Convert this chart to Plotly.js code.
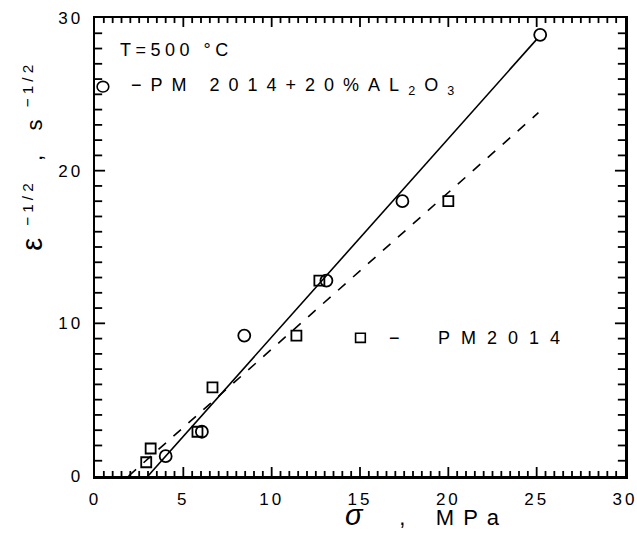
<!DOCTYPE html>
<html>
<head>
<meta charset="utf-8">
<script src="https://cdn.plot.ly/plotly-3.0.1.min.js"></script>
<style>
  html, body { margin: 0; padding: 0; background: #fff; }
  #chart { width: 637px; height: 533px; }
  .xtick text, .ytick text { letter-spacing: 3px; }
</style>
</head>
<body>
<div id="chart"></div>
<script>
// PM 2014 + 20% Al2O3 (circles)
const compSigma = [25.2, 17.4, 13.1, 8.45, 6.05, 4.0];
const compRate  = [28.9, 18.0, 12.8, 9.2, 2.9, 1.3];
// PM 2014 (squares)
const baseSigma = [20.0, 12.7, 11.4, 6.65, 5.8, 3.15, 2.9];
const baseRate  = [18.0, 12.8, 9.2, 5.8, 2.9, 1.8, 0.9];
// fitted lines (end points)
const compFitSigma = [3.0, 25.0];
const compFitRate  = [0.0, 28.6];
const baseFitSigma = [1.9, 25.1];
const baseFitRate  = [0.0, 23.8];
// axis ticks
const xRange = [0, 30], yRange = [0, 30];
const xTickStep = 5, xMinorStep = 0.5;
const yTickStep = 10, yMinorStep = 1;

const FONT = 'Liberation Sans, Arial, sans-serif';

// inward tick marks on all four sides, drawn as one line trace on the axes' scale
// tick lengths expressed as fractions of the opposite axis span
const tx = [], ty = [];
const xMajLen = 0.0196 * (yRange[1] - yRange[0]), xMinLen = 0.011 * (yRange[1] - yRange[0]);
const yMajLen = 0.019 * (xRange[1] - xRange[0]), yMinLen = 0.0135 * (xRange[1] - xRange[0]);
for (let i = 1; xMinorStep * i < xRange[1] - 1e-9; i++) {
  const v = xMinorStep * i;
  const len = Math.abs(v / xTickStep - Math.round(v / xTickStep)) < 1e-9 ? xMajLen : xMinLen;
  tx.push(v, v, null, v, v, null);
  ty.push(yRange[0], yRange[0] + len, null, yRange[1], yRange[1] - len, null);
}
for (let i = 1; yMinorStep * i < yRange[1] - 1e-9; i++) {
  const v = yMinorStep * i;
  const len = Math.abs(v / yTickStep - Math.round(v / yTickStep)) < 1e-9 ? yMajLen : yMinLen;
  tx.push(xRange[0], xRange[0] + len, null, xRange[1], xRange[1] - len, null);
  ty.push(v, v, null, v, v, null);
}

const traces = [
  { x: tx, y: ty, mode: 'lines', type: 'scatter', connectgaps: false, cliponaxis: false,
    line: { color: '#000', width: 1.8 }, hoverinfo: 'skip' },
  { x: compFitSigma, y: compFitRate, mode: 'lines', type: 'scatter',
    line: { color: '#000', width: 1.6 }, hoverinfo: 'skip' },
  { x: baseFitSigma, y: baseFitRate, mode: 'lines', type: 'scatter',
    line: { color: '#000', width: 1.6, dash: '10px,10px' }, hoverinfo: 'skip' },
  { x: compSigma, y: compRate, mode: 'markers', type: 'scatter',
    marker: { symbol: 'circle-open', size: 12, color: '#000', line: { width: 1.8, color: '#000' } } },
  { x: baseSigma, y: baseRate, mode: 'markers', type: 'scatter',
    marker: { symbol: 'square-open', size: 10, color: '#000', line: { width: 1.8, color: '#000' } } }
];

const axisCommon = {
  showgrid: false, zeroline: false,
  showline: true, linecolor: '#000', linewidth: 2.5, mirror: true,
  ticks: '', tickmode: 'linear', tick0: 0, ticklabeloverflow: 'allow',
  tickfont: { family: FONT, size: 17, color: '#000' }
};

const layout = {
  width: 637, height: 533,
  margin: { l: 95, r: 12, t: 18, b: 57 },
  paper_bgcolor: '#fff', plot_bgcolor: '#fff',
  showlegend: false,
  xaxis: Object.assign({}, axisCommon, { range: xRange, dtick: xTickStep, ticklabelstandoff: 6 }),
  yaxis: Object.assign({}, axisCommon, { range: yRange, dtick: yTickStep, ticklabelstandoff: 6 }),
  shapes: [
    { type: 'circle', xref: 'x', yref: 'y', x0: 0.12, x1: 0.78, y0: 25.15, y1: 25.85,
      line: { color: '#000', width: 1.6 } },
    { type: 'rect', xref: 'x', yref: 'y', x0: 14.75, x1: 15.3, y0: 8.75, y1: 9.35,
      line: { color: '#000', width: 1.6 } }
  ],
  annotations: [
    { xref: 'x', yref: 'y', x: 1.3, y: 27.9, xanchor: 'left', yanchor: 'middle', showarrow: false,
      text: '<span style="letter-spacing:4.5px">T=500 °C</span>', font: { family: FONT, size: 18, color: '#000' } },
    { xref: 'x', yref: 'y', x: 1.95, y: 25.5, xanchor: 'left', yanchor: 'middle', showarrow: false,
      text: '<span style="letter-spacing:9px">−PM 2014+20%AL<sub>2</sub>O<sub>3</sub></span>', font: { family: FONT, size: 18, color: '#000' } },
    { xref: 'x', yref: 'y', x: 16.5, y: 9.05, xanchor: 'left', yanchor: 'middle', showarrow: false,
      text: '−', font: { family: FONT, size: 18, color: '#000' } },
    { xref: 'x', yref: 'y', x: 19.3, y: 9.05, xanchor: 'left', yanchor: 'middle', showarrow: false,
      text: '<span style="letter-spacing:11px">PM2014</span>', font: { family: FONT, size: 18, color: '#000' } },
    { xref: 'paper', yref: 'paper', x: -0.118, y: 0.70, xanchor: 'center', yanchor: 'middle',
      showarrow: false, textangle: -90,
      text: '<span style="font-size:29px">ε</span>  <sup><span style="letter-spacing:4px">−1/2</span></sup>   ,    s  <sup><span style="letter-spacing:4px">−1/2</span></sup>',
      font: { family: FONT, size: 22, color: '#000' } },
    { xref: 'paper', yref: 'paper', x: 0.625, y: -0.085, xanchor: 'center', yanchor: 'middle',
      showarrow: false,
      text: '<i><span style="font-size:29px">σ</span></i>      ,     <span style="letter-spacing:9px">MPa</span>',
      font: { family: FONT, size: 22, color: '#000' } }
  ]
};

Plotly.newPlot('chart', traces, layout, { staticPlot: true, displayModeBar: false });
</script>
</body>
</html>
